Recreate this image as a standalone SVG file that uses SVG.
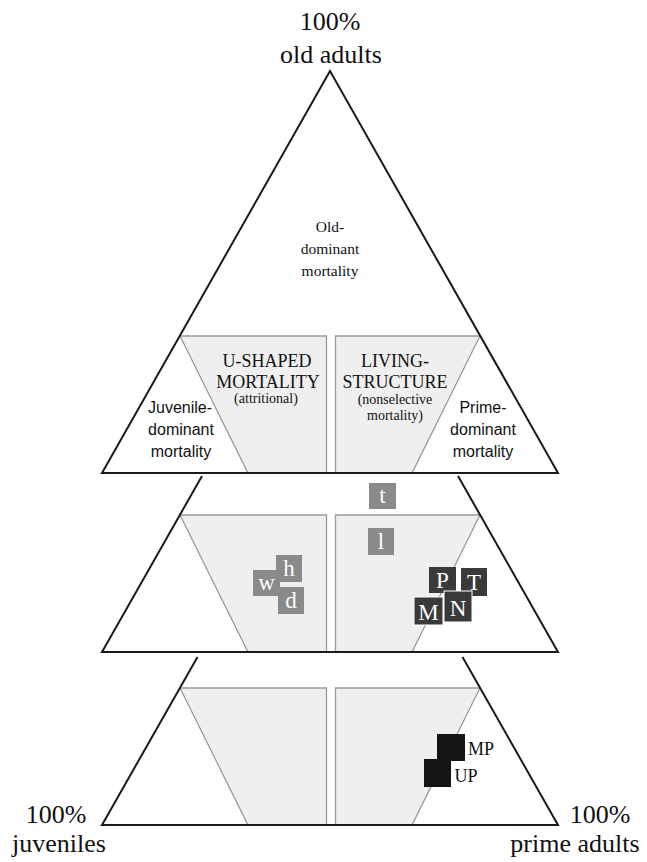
<svg xmlns="http://www.w3.org/2000/svg" width="647" height="862" viewBox="0 0 647 862">
<style>
.outer{fill:none;stroke:#1a1a1a;stroke-width:2;stroke-linejoin:miter}
.region{fill:#efefef;stroke:#9a9a9a;stroke-width:1.3}
.big{font-family:"Liberation Serif","Times New Roman",serif;font-size:26px;fill:#111;text-anchor:middle}
.serif{font-family:"Liberation Serif","Times New Roman",serif;fill:#111;text-anchor:middle}
.sans{font-family:"Liberation Sans",Arial,sans-serif;font-size:16px;fill:#111;text-anchor:middle}
.mk{font-family:"Liberation Serif","Times New Roman",serif;font-size:23px;fill:#fff;text-anchor:middle}
.g{fill:#8a8a8a}
.dk{fill:#3a3a3a}
.bk{fill:#141414}
</style>
<rect width="647" height="862" fill="#fff"/>

<g id="top-triangle">
  <polygon points="330,71 102,473 558,473" fill="#fff"/>
  <polygon class="region" points="180,336 326.5,336 326.5,473 248,473"/>
  <polygon class="region" points="335.5,336 480,336 412,473 335.5,473"/>
  <polygon class="outer" points="330,71 102,473 558,473"/>
</g>

<g id="middle-band" transform="translate(0,179)">
  <polygon class="region" points="180,336 326.5,336 326.5,473 248,473"/>
  <polygon class="region" points="335.5,336 480,336 412,473 335.5,473"/>
  <polyline class="outer" points="202,297 102,473 558,473 458,297"/>
</g>

<g id="bottom-band" transform="translate(0,352)">
  <polygon class="region" points="180,336 326.5,336 326.5,473 248,473"/>
  <polygon class="region" points="335.5,336 480,336 412,473 335.5,473"/>
  <polyline class="outer" points="197.5,305 102,473 558,473 462.5,305"/>
</g>

<g id="labels-corners">
  <text class="big" x="330" y="30">100%</text>
  <text class="big" x="331" y="63">old adults</text>
  <text class="big" x="56" y="823">100%</text>
  <text class="big" x="59" y="852">juveniles</text>
  <text class="big" x="600" y="823">100%</text>
  <text class="big" x="575" y="852">prime adults</text>
</g>

<g id="old-dominant">
  <text class="serif" font-size="15.5" x="330" y="232">Old-</text>
  <text class="serif" font-size="15.5" x="330" y="254">dominant</text>
  <text class="serif" font-size="15.5" x="330" y="276">mortality</text>
</g>

<g id="u-shaped">
  <text class="serif" font-size="18" x="267" y="367">U-SHAPED</text>
  <text class="serif" font-size="18" x="268" y="388">MORTALITY</text>
  <text class="serif" font-size="14" x="266" y="403">(attritional)</text>
</g>

<g id="living-structure">
  <text class="serif" font-size="18" x="395" y="367">LIVING-</text>
  <text class="serif" font-size="18" x="395" y="388">STRUCTURE</text>
  <text class="serif" font-size="14" x="395" y="404">(nonselective</text>
  <text class="serif" font-size="14" x="395" y="420">mortality)</text>
</g>

<g id="juvenile-dominant">
  <text class="sans" x="180" y="413">Juvenile-</text>
  <text class="sans" x="181" y="435">dominant</text>
  <text class="sans" x="181" y="457">mortality</text>
</g>

<g id="prime-dominant">
  <text class="sans" x="483" y="413">Prime-</text>
  <text class="sans" x="483" y="435">dominant</text>
  <text class="sans" x="483" y="457">mortality</text>
</g>

<g id="marker-t"><rect class="g" x="369" y="483" width="27" height="26"/><text class="mk" x="382.5" y="503">t</text></g>
<g id="marker-l"><rect class="g" x="368" y="528" width="26" height="27"/><text class="mk" x="381" y="549">l</text></g>
<g id="marker-w"><rect class="g" x="253" y="570" width="27" height="26"/><text class="mk" x="266.5" y="590">w</text></g>
<g id="marker-h"><rect class="g" x="276" y="555" width="26" height="27"/><text class="mk" x="289" y="576">h</text></g>
<g id="marker-d"><rect class="g" x="278" y="587" width="26" height="27"/><text class="mk" x="291" y="608">d</text></g>

<g id="marker-P"><rect class="dk" x="429" y="567" width="27" height="26"/><text class="mk" x="442.5" y="588">P</text></g>
<g id="marker-T"><rect class="dk" x="461" y="568" width="26" height="28"/><text class="mk" x="474" y="590">T</text></g>
<g id="marker-N"><rect class="dk" x="444" y="591" width="28" height="31" stroke="#fff" stroke-width="1"/><text class="mk" x="458" y="616">N</text></g>
<g id="marker-M"><rect class="dk" x="414" y="597" width="29" height="28" stroke="#fff" stroke-width="1"/><text class="mk" x="428.5" y="620">M</text></g>

<g id="marker-MP"><rect class="bk" x="437" y="734" width="28" height="27"/><text class="serif" font-size="18" x="481" y="755">MP</text></g>
<g id="marker-UP"><rect class="bk" x="424" y="759" width="27" height="28"/><text class="serif" font-size="18" x="466" y="782">UP</text></g>
</svg>
